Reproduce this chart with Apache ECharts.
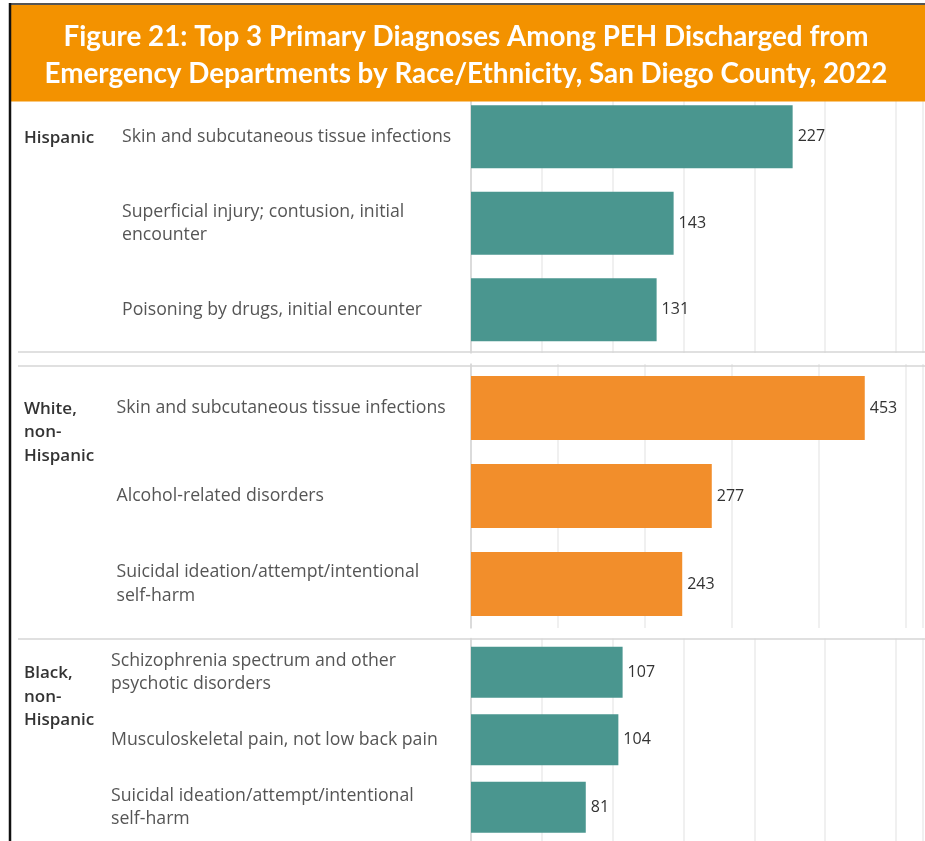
<!DOCTYPE html>
<html>
<head>
<meta charset="utf-8">
<title>Top 3 Primary Diagnoses Among PEH Discharged from Emergency Departments</title>
<script src="https://cdn.jsdelivr.net/npm/echarts@6/dist/echarts.min.js"></script>
<style>
  html, body { margin: 0; padding: 0; background: #ffffff; }
  #chart { width: 925px; height: 841px; }
</style>
</head>
<body>
<div id="chart"></div>
<script>
// Race/ethnicity groups, one panel each
const raceGroups = ['Hispanic', 'White, non-Hispanic', 'Black, non-Hispanic'];

// Top 3 primary diagnoses per group (ED discharges)
const hispanicDiagnoses = [
  'Skin and subcutaneous tissue infections',
  'Superficial injury; contusion, initial encounter',
  'Poisoning by drugs, initial encounter'
];
const hispanicCounts = [227, 143, 131];

const whiteDiagnoses = [
  'Skin and subcutaneous tissue infections',
  'Alcohol-related disorders',
  'Suicidal ideation/attempt/intentional self-harm'
];
const whiteCounts = [453, 277, 243];

const blackDiagnoses = [
  'Schizophrenia spectrum and other psychotic disorders',
  'Musculoskeletal pain, not low back pain',
  'Suicidal ideation/attempt/intentional self-harm'
];
const blackCounts = [107, 104, 81];

// Value axis extent and gridline step for each panel
const axisMax = [319, 520, 319];
const axisStep = [50, 100, 50];

const panelDiagnoses = [hispanicDiagnoses, whiteDiagnoses, blackDiagnoses];
const panelCounts = [hispanicCounts, whiteCounts, blackCounts];
const panelColors = ['#4a968f', '#f28e2b', '#4a968f'];

// Panel layout
const plotLeft = 471;
const panelTop = [93.5, 364, 638.5];
const panelHeight = [259.5, 264, 202.5];
const barWidths = ['73%', '73%', '75.5%'];
const labelMargins = [349, 354.5, 360];
const separatorsY = [352, 366, 639];

const labelFont = '"Open Sans", "Noto Sans", sans-serif';
const titleFont = 'Lato, "Open Sans", sans-serif';

const grids = [], xAxes = [], yAxes = [], series = [];
panelCounts.forEach(function (counts, i) {
  grids.push({ left: plotLeft, right: 2, top: panelTop[i], height: panelHeight[i] });
  xAxes.push({
    gridIndex: i, type: 'value', min: 0, max: axisMax[i], interval: axisStep[i],
    axisLabel: { show: false }, axisLine: { show: false }, axisTick: { show: false },
    splitLine: { show: true, lineStyle: { color: '#ebebeb', width: 1.5 } }
  });
  yAxes.push({
    gridIndex: i, type: 'category', data: panelDiagnoses[i], inverse: true,
    axisTick: { show: false },
    axisLine: { show: true, lineStyle: { color: '#d4d4d4', width: 1.5 } },
    axisLabel: {
      align: 'left', margin: labelMargins[i], width: 340, overflow: 'break',
      fontFamily: labelFont, fontSize: 17.7, lineHeight: 23.5, color: '#555555'
    }
  });
  series.push({
    type: 'bar', xAxisIndex: i, yAxisIndex: i, data: counts,
    barWidth: barWidths[i],
    itemStyle: { color: panelColors[i] },
    label: {
      show: true, position: 'right', distance: 5,
      fontFamily: labelFont, fontSize: 16, color: '#333333'
    },
    animation: false
  });
});

// Group names at the left, first line level with the first bar
const graphics = [];
raceGroups.forEach(function (name, i) {
  const band = panelHeight[i] / 3;
  const firstCenter = panelTop[i] + band / 2;
  const lines = name.replace(', ', ',\n').replace('non-', 'non-\n');
  graphics.push({
    type: 'text', z: 10,
    style: {
      text: lines, x: 24, y: firstCenter - 23.5 / 2 + 1,
      verticalAlign: 'top', align: 'left',
      font: '600 17px ' + labelFont, lineHeight: 23.5, fill: '#333333'
    }
  });
});

// Row dividers between panels
separatorsY.forEach(function (y) {
  graphics.push({
    type: 'line', z: 10,
    shape: { x1: 18, y1: y, x2: 925, y2: y },
    style: { stroke: '#d6d6d6', lineWidth: 1.5 }
  });
});

// Orange header band and frame edges
graphics.push({
  type: 'rect', z: 20,
  shape: { x: 11, y: 5, width: 914, height: 96.5 },
  style: { fill: '#f39200' }
});
graphics.push({
  type: 'line', z: 21,
  shape: { x1: 9, y1: 4, x2: 925, y2: 4 },
  style: { stroke: '#555555', lineWidth: 2 }
});
graphics.push({
  type: 'line', z: 21,
  shape: { x1: 10, y1: 3, x2: 10, y2: 841 },
  style: { stroke: '#111111', lineWidth: 2.5 }
});

const chart = echarts.init(document.getElementById('chart'), null, { renderer: 'canvas' });
chart.setOption({
  animation: false,
  backgroundColor: '#ffffff',
  title: {
    text: 'Figure 21: Top 3 Primary Diagnoses Among PEH Discharged from\nEmergency Departments by Race/Ethnicity, San Diego County, 2022',
    left: 466, top: 19, textAlign: 'center', padding: 0, z: 30, zlevel: 1,
    textStyle: {
      fontFamily: titleFont, fontWeight: 'bold', fontSize: 27.8,
      lineHeight: 37, color: '#ffffff'
    }
  },
  grid: grids,
  xAxis: xAxes,
  yAxis: yAxes,
  series: series,
  graphic: { elements: graphics }
});
</script>
</body>
</html>
